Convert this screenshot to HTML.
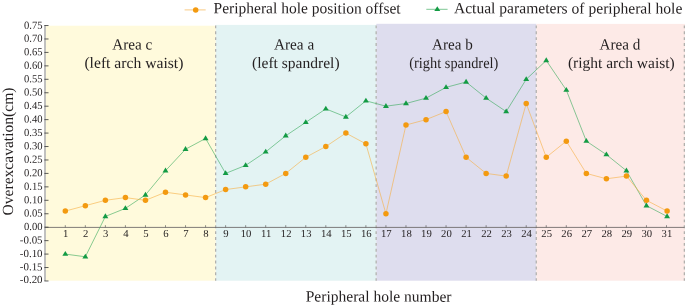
<!DOCTYPE html>
<html><head><meta charset="utf-8"><title>chart</title>
<style>
html,body{margin:0;padding:0;background:#fff;}
svg{display:block;font-family:"Liberation Serif",serif;text-rendering:geometricPrecision;will-change:transform;}
</style></head>
<body>
<svg width="685" height="307" viewBox="0 0 685 307">
<rect x="0" y="0" width="685" height="307" fill="#ffffff"/>
<rect x="45.70" y="25.7" width="170.10" height="255.00" fill="#FFFADC"/>
<rect x="215.80" y="24.9" width="160.50" height="255.80" fill="#E3F3F3"/>
<rect x="376.30" y="23.8" width="160.10" height="256.90" fill="#DEDDEE"/>
<rect x="536.40" y="23.9" width="148.60" height="256.80" fill="#FDEAE7"/>
<line x1="215.65" y1="25.4" x2="215.65" y2="280.7" stroke="#b0afac" stroke-width="1.25" stroke-dasharray="2.9 2.98"/>
<line x1="376.15000000000003" y1="25.4" x2="376.15000000000003" y2="280.7" stroke="#b0afac" stroke-width="1.25" stroke-dasharray="2.9 2.98"/>
<line x1="536.25" y1="25.4" x2="536.25" y2="280.7" stroke="#b0afac" stroke-width="1.25" stroke-dasharray="2.9 2.98"/>
<line x1="684.35" y1="25.4" x2="684.35" y2="280.7" stroke="#b0afac" stroke-width="1.25" stroke-dasharray="2.9 2.98"/>
<line x1="45.0" y1="24.9" x2="45.0" y2="281.09999999999997" stroke="#a6a6a6" stroke-width="1.4"/>
<line x1="45.0" y1="227.39999999999998" x2="684.5" y2="227.39999999999998" stroke="#6a6564" stroke-width="0.85"/>
<line x1="44.40" y1="280.98" x2="48.50" y2="280.98" stroke="#404040" stroke-width="0.85"/>
<text transform="translate(42.60,282.98) rotate(0.04)" font-size="10.8" text-anchor="end" textLength="22.8" lengthAdjust="spacingAndGlyphs" fill="#231f20">-0.20</text>
<line x1="44.40" y1="267.53" x2="48.50" y2="267.53" stroke="#404040" stroke-width="0.85"/>
<text transform="translate(42.60,270.38) rotate(0.04)" font-size="10.8" text-anchor="end" textLength="22.8" lengthAdjust="spacingAndGlyphs" fill="#231f20">-0.15</text>
<line x1="44.40" y1="254.09" x2="48.50" y2="254.09" stroke="#404040" stroke-width="0.85"/>
<text transform="translate(42.60,256.94) rotate(0.04)" font-size="10.8" text-anchor="end" textLength="22.8" lengthAdjust="spacingAndGlyphs" fill="#231f20">-0.10</text>
<line x1="44.40" y1="240.64" x2="48.50" y2="240.64" stroke="#404040" stroke-width="0.85"/>
<text transform="translate(42.60,243.50) rotate(0.04)" font-size="10.8" text-anchor="end" textLength="22.8" lengthAdjust="spacingAndGlyphs" fill="#231f20">-0.05</text>
<line x1="44.40" y1="227.20" x2="48.50" y2="227.20" stroke="#404040" stroke-width="0.85"/>
<text transform="translate(42.60,230.05) rotate(0.04)" font-size="10.8" text-anchor="end" textLength="18.6" lengthAdjust="spacingAndGlyphs" fill="#231f20">0.00</text>
<line x1="44.40" y1="213.75" x2="48.50" y2="213.75" stroke="#404040" stroke-width="0.85"/>
<text transform="translate(42.60,216.61) rotate(0.04)" font-size="10.8" text-anchor="end" textLength="18.6" lengthAdjust="spacingAndGlyphs" fill="#231f20">0.05</text>
<line x1="44.40" y1="200.31" x2="48.50" y2="200.31" stroke="#404040" stroke-width="0.85"/>
<text transform="translate(42.60,203.16) rotate(0.04)" font-size="10.8" text-anchor="end" textLength="18.6" lengthAdjust="spacingAndGlyphs" fill="#231f20">0.10</text>
<line x1="44.40" y1="186.86" x2="48.50" y2="186.86" stroke="#404040" stroke-width="0.85"/>
<text transform="translate(42.60,189.72) rotate(0.04)" font-size="10.8" text-anchor="end" textLength="18.6" lengthAdjust="spacingAndGlyphs" fill="#231f20">0.15</text>
<line x1="44.40" y1="173.42" x2="48.50" y2="173.42" stroke="#404040" stroke-width="0.85"/>
<text transform="translate(42.60,176.27) rotate(0.04)" font-size="10.8" text-anchor="end" textLength="18.6" lengthAdjust="spacingAndGlyphs" fill="#231f20">0.20</text>
<line x1="44.40" y1="159.97" x2="48.50" y2="159.97" stroke="#404040" stroke-width="0.85"/>
<text transform="translate(42.60,162.83) rotate(0.04)" font-size="10.8" text-anchor="end" textLength="18.6" lengthAdjust="spacingAndGlyphs" fill="#231f20">0.25</text>
<line x1="44.40" y1="146.53" x2="48.50" y2="146.53" stroke="#404040" stroke-width="0.85"/>
<text transform="translate(42.60,149.38) rotate(0.04)" font-size="10.8" text-anchor="end" textLength="18.6" lengthAdjust="spacingAndGlyphs" fill="#231f20">0.30</text>
<line x1="44.40" y1="133.08" x2="48.50" y2="133.08" stroke="#404040" stroke-width="0.85"/>
<text transform="translate(42.60,135.94) rotate(0.04)" font-size="10.8" text-anchor="end" textLength="18.6" lengthAdjust="spacingAndGlyphs" fill="#231f20">0.35</text>
<line x1="44.40" y1="119.64" x2="48.50" y2="119.64" stroke="#404040" stroke-width="0.85"/>
<text transform="translate(42.60,122.49) rotate(0.04)" font-size="10.8" text-anchor="end" textLength="18.6" lengthAdjust="spacingAndGlyphs" fill="#231f20">0.40</text>
<line x1="44.40" y1="106.19" x2="48.50" y2="106.19" stroke="#404040" stroke-width="0.85"/>
<text transform="translate(42.60,109.04) rotate(0.04)" font-size="10.8" text-anchor="end" textLength="18.6" lengthAdjust="spacingAndGlyphs" fill="#231f20">0.45</text>
<line x1="44.40" y1="92.75" x2="48.50" y2="92.75" stroke="#404040" stroke-width="0.85"/>
<text transform="translate(42.60,95.60) rotate(0.04)" font-size="10.8" text-anchor="end" textLength="18.6" lengthAdjust="spacingAndGlyphs" fill="#231f20">0.50</text>
<line x1="44.40" y1="79.30" x2="48.50" y2="79.30" stroke="#404040" stroke-width="0.85"/>
<text transform="translate(42.60,82.15) rotate(0.04)" font-size="10.8" text-anchor="end" textLength="18.6" lengthAdjust="spacingAndGlyphs" fill="#231f20">0.55</text>
<line x1="44.40" y1="65.86" x2="48.50" y2="65.86" stroke="#404040" stroke-width="0.85"/>
<text transform="translate(42.60,68.71) rotate(0.04)" font-size="10.8" text-anchor="end" textLength="18.6" lengthAdjust="spacingAndGlyphs" fill="#231f20">0.60</text>
<line x1="44.40" y1="52.41" x2="48.50" y2="52.41" stroke="#404040" stroke-width="0.85"/>
<text transform="translate(42.60,55.26) rotate(0.04)" font-size="10.8" text-anchor="end" textLength="18.6" lengthAdjust="spacingAndGlyphs" fill="#231f20">0.65</text>
<line x1="44.40" y1="38.97" x2="48.50" y2="38.97" stroke="#404040" stroke-width="0.85"/>
<text transform="translate(42.60,41.82) rotate(0.04)" font-size="10.8" text-anchor="end" textLength="18.6" lengthAdjust="spacingAndGlyphs" fill="#231f20">0.70</text>
<line x1="44.40" y1="25.53" x2="48.50" y2="25.53" stroke="#404040" stroke-width="0.85"/>
<text transform="translate(42.60,28.68) rotate(0.04)" font-size="10.8" text-anchor="end" textLength="18.6" lengthAdjust="spacingAndGlyphs" fill="#231f20">0.75</text>
<line x1="65.30" y1="227.39999999999998" x2="65.30" y2="225.20" stroke="#606060" stroke-width="0.7"/>
<text transform="translate(65.70,237.10) rotate(0.04)" font-size="10.7" text-anchor="middle" fill="#231f20">1</text>
<line x1="85.34" y1="227.39999999999998" x2="85.34" y2="225.20" stroke="#606060" stroke-width="0.7"/>
<text transform="translate(85.74,237.10) rotate(0.04)" font-size="10.7" text-anchor="middle" fill="#231f20">2</text>
<line x1="105.38" y1="227.39999999999998" x2="105.38" y2="225.20" stroke="#606060" stroke-width="0.7"/>
<text transform="translate(105.78,237.10) rotate(0.04)" font-size="10.7" text-anchor="middle" fill="#231f20">3</text>
<line x1="125.42" y1="227.39999999999998" x2="125.42" y2="225.20" stroke="#606060" stroke-width="0.7"/>
<text transform="translate(125.82,237.10) rotate(0.04)" font-size="10.7" text-anchor="middle" fill="#231f20">4</text>
<line x1="145.46" y1="227.39999999999998" x2="145.46" y2="225.20" stroke="#606060" stroke-width="0.7"/>
<text transform="translate(145.86,237.10) rotate(0.04)" font-size="10.7" text-anchor="middle" fill="#231f20">5</text>
<line x1="165.50" y1="227.39999999999998" x2="165.50" y2="225.20" stroke="#606060" stroke-width="0.7"/>
<text transform="translate(165.90,237.10) rotate(0.04)" font-size="10.7" text-anchor="middle" fill="#231f20">6</text>
<line x1="185.54" y1="227.39999999999998" x2="185.54" y2="225.20" stroke="#606060" stroke-width="0.7"/>
<text transform="translate(185.94,237.10) rotate(0.04)" font-size="10.7" text-anchor="middle" fill="#231f20">7</text>
<line x1="205.58" y1="227.39999999999998" x2="205.58" y2="225.20" stroke="#606060" stroke-width="0.7"/>
<text transform="translate(205.98,237.10) rotate(0.04)" font-size="10.7" text-anchor="middle" fill="#231f20">8</text>
<line x1="225.62" y1="227.39999999999998" x2="225.62" y2="225.20" stroke="#606060" stroke-width="0.7"/>
<text transform="translate(226.02,237.10) rotate(0.04)" font-size="10.7" text-anchor="middle" fill="#231f20">9</text>
<line x1="245.66" y1="227.39999999999998" x2="245.66" y2="225.20" stroke="#606060" stroke-width="0.7"/>
<text transform="translate(246.06,237.10) rotate(0.04)" font-size="10.7" text-anchor="middle" fill="#231f20">10</text>
<line x1="265.70" y1="227.39999999999998" x2="265.70" y2="225.20" stroke="#606060" stroke-width="0.7"/>
<text transform="translate(266.10,237.10) rotate(0.04)" font-size="10.7" text-anchor="middle" fill="#231f20">11</text>
<line x1="285.74" y1="227.39999999999998" x2="285.74" y2="225.20" stroke="#606060" stroke-width="0.7"/>
<text transform="translate(286.14,237.10) rotate(0.04)" font-size="10.7" text-anchor="middle" fill="#231f20">12</text>
<line x1="305.78" y1="227.39999999999998" x2="305.78" y2="225.20" stroke="#606060" stroke-width="0.7"/>
<text transform="translate(306.18,237.10) rotate(0.04)" font-size="10.7" text-anchor="middle" fill="#231f20">13</text>
<line x1="325.82" y1="227.39999999999998" x2="325.82" y2="225.20" stroke="#606060" stroke-width="0.7"/>
<text transform="translate(326.22,237.10) rotate(0.04)" font-size="10.7" text-anchor="middle" fill="#231f20">14</text>
<line x1="345.86" y1="227.39999999999998" x2="345.86" y2="225.20" stroke="#606060" stroke-width="0.7"/>
<text transform="translate(346.26,237.10) rotate(0.04)" font-size="10.7" text-anchor="middle" fill="#231f20">15</text>
<line x1="365.90" y1="227.39999999999998" x2="365.90" y2="225.20" stroke="#606060" stroke-width="0.7"/>
<text transform="translate(366.30,237.10) rotate(0.04)" font-size="10.7" text-anchor="middle" fill="#231f20">16</text>
<line x1="385.94" y1="227.39999999999998" x2="385.94" y2="225.20" stroke="#606060" stroke-width="0.7"/>
<text transform="translate(386.34,237.10) rotate(0.04)" font-size="10.7" text-anchor="middle" fill="#231f20">17</text>
<line x1="405.98" y1="227.39999999999998" x2="405.98" y2="225.20" stroke="#606060" stroke-width="0.7"/>
<text transform="translate(406.38,237.10) rotate(0.04)" font-size="10.7" text-anchor="middle" fill="#231f20">18</text>
<line x1="426.02" y1="227.39999999999998" x2="426.02" y2="225.20" stroke="#606060" stroke-width="0.7"/>
<text transform="translate(426.42,237.10) rotate(0.04)" font-size="10.7" text-anchor="middle" fill="#231f20">19</text>
<line x1="446.06" y1="227.39999999999998" x2="446.06" y2="225.20" stroke="#606060" stroke-width="0.7"/>
<text transform="translate(446.46,237.10) rotate(0.04)" font-size="10.7" text-anchor="middle" fill="#231f20">20</text>
<line x1="466.10" y1="227.39999999999998" x2="466.10" y2="225.20" stroke="#606060" stroke-width="0.7"/>
<text transform="translate(466.50,237.10) rotate(0.04)" font-size="10.7" text-anchor="middle" fill="#231f20">21</text>
<line x1="486.14" y1="227.39999999999998" x2="486.14" y2="225.20" stroke="#606060" stroke-width="0.7"/>
<text transform="translate(486.54,237.10) rotate(0.04)" font-size="10.7" text-anchor="middle" fill="#231f20">22</text>
<line x1="506.18" y1="227.39999999999998" x2="506.18" y2="225.20" stroke="#606060" stroke-width="0.7"/>
<text transform="translate(506.58,237.10) rotate(0.04)" font-size="10.7" text-anchor="middle" fill="#231f20">23</text>
<line x1="526.22" y1="227.39999999999998" x2="526.22" y2="225.20" stroke="#606060" stroke-width="0.7"/>
<text transform="translate(526.62,237.10) rotate(0.04)" font-size="10.7" text-anchor="middle" fill="#231f20">24</text>
<line x1="546.26" y1="227.39999999999998" x2="546.26" y2="225.20" stroke="#606060" stroke-width="0.7"/>
<text transform="translate(546.66,237.10) rotate(0.04)" font-size="10.7" text-anchor="middle" fill="#231f20">25</text>
<line x1="566.30" y1="227.39999999999998" x2="566.30" y2="225.20" stroke="#606060" stroke-width="0.7"/>
<text transform="translate(566.70,237.10) rotate(0.04)" font-size="10.7" text-anchor="middle" fill="#231f20">26</text>
<line x1="586.34" y1="227.39999999999998" x2="586.34" y2="225.20" stroke="#606060" stroke-width="0.7"/>
<text transform="translate(586.74,237.10) rotate(0.04)" font-size="10.7" text-anchor="middle" fill="#231f20">27</text>
<line x1="606.38" y1="227.39999999999998" x2="606.38" y2="225.20" stroke="#606060" stroke-width="0.7"/>
<text transform="translate(606.78,237.10) rotate(0.04)" font-size="10.7" text-anchor="middle" fill="#231f20">28</text>
<line x1="626.42" y1="227.39999999999998" x2="626.42" y2="225.20" stroke="#606060" stroke-width="0.7"/>
<text transform="translate(626.82,237.10) rotate(0.04)" font-size="10.7" text-anchor="middle" fill="#231f20">29</text>
<line x1="646.46" y1="227.39999999999998" x2="646.46" y2="225.20" stroke="#606060" stroke-width="0.7"/>
<text transform="translate(646.86,237.10) rotate(0.04)" font-size="10.7" text-anchor="middle" fill="#231f20">30</text>
<line x1="666.50" y1="227.39999999999998" x2="666.50" y2="225.20" stroke="#606060" stroke-width="0.7"/>
<text transform="translate(666.90,237.10) rotate(0.04)" font-size="10.7" text-anchor="middle" fill="#231f20">31</text>
<polyline points="65.30,254.09 85.34,256.78 105.38,216.44 125.42,208.38 145.46,194.93 165.50,170.73 185.54,149.22 205.58,138.46 225.62,173.42 245.66,165.35 265.70,151.91 285.74,135.77 305.78,122.33 325.82,108.88 345.86,116.95 365.90,100.82 385.94,106.19 405.98,103.51 426.02,98.13 446.06,87.37 466.10,81.99 486.14,98.13 506.18,111.57 526.22,79.30 546.26,60.48 566.30,90.06 586.34,141.15 606.38,154.60 626.42,170.73 646.46,205.69 667.10,216.44" fill="none" stroke="#38A95A" stroke-width="0.6" stroke-linejoin="round"/>
<polyline points="65.30,211.07 85.34,205.69 105.38,200.31 125.42,197.62 145.46,200.31 165.50,192.24 185.54,194.93 205.58,197.62 225.62,189.55 245.66,186.87 265.70,184.18 285.74,173.42 305.78,157.29 325.82,146.53 345.86,133.09 365.90,143.84 385.94,213.75 405.98,125.02 426.02,119.64 446.06,111.57 466.10,157.29 486.14,173.42 506.18,176.11 526.22,103.51 546.26,157.29 566.30,141.15 586.34,173.42 606.38,178.80 626.42,176.11 646.46,200.31 667.10,211.07" fill="none" stroke="#F6AE42" stroke-width="0.6" stroke-linejoin="round"/>
<path d="M65.30,250.94 L68.25,255.79 L62.35,255.79 Z" fill="#139B44"/>
<path d="M85.34,253.63 L88.29,258.48 L82.39,258.48 Z" fill="#139B44"/>
<path d="M105.38,213.29 L108.33,218.14 L102.43,218.14 Z" fill="#139B44"/>
<path d="M125.42,205.23 L128.37,210.08 L122.47,210.08 Z" fill="#139B44"/>
<path d="M145.46,191.78 L148.41,196.63 L142.51,196.63 Z" fill="#139B44"/>
<path d="M165.50,167.58 L168.45,172.43 L162.55,172.43 Z" fill="#139B44"/>
<path d="M185.54,146.07 L188.49,150.92 L182.59,150.92 Z" fill="#139B44"/>
<path d="M205.58,135.31 L208.53,140.16 L202.63,140.16 Z" fill="#139B44"/>
<path d="M225.62,170.27 L228.57,175.12 L222.67,175.12 Z" fill="#139B44"/>
<path d="M245.66,162.20 L248.61,167.05 L242.71,167.05 Z" fill="#139B44"/>
<path d="M265.70,148.76 L268.65,153.61 L262.75,153.61 Z" fill="#139B44"/>
<path d="M285.74,132.62 L288.69,137.47 L282.79,137.47 Z" fill="#139B44"/>
<path d="M305.78,119.18 L308.73,124.03 L302.83,124.03 Z" fill="#139B44"/>
<path d="M325.82,105.73 L328.77,110.58 L322.87,110.58 Z" fill="#139B44"/>
<path d="M345.86,113.80 L348.81,118.65 L342.91,118.65 Z" fill="#139B44"/>
<path d="M365.90,97.67 L368.85,102.52 L362.95,102.52 Z" fill="#139B44"/>
<path d="M385.94,103.04 L388.89,107.89 L382.99,107.89 Z" fill="#139B44"/>
<path d="M405.98,100.36 L408.93,105.21 L403.03,105.21 Z" fill="#139B44"/>
<path d="M426.02,94.98 L428.97,99.83 L423.07,99.83 Z" fill="#139B44"/>
<path d="M446.06,84.22 L449.01,89.07 L443.11,89.07 Z" fill="#139B44"/>
<path d="M466.10,78.84 L469.05,83.69 L463.15,83.69 Z" fill="#139B44"/>
<path d="M486.14,94.98 L489.09,99.83 L483.19,99.83 Z" fill="#139B44"/>
<path d="M506.18,108.42 L509.13,113.27 L503.23,113.27 Z" fill="#139B44"/>
<path d="M526.22,76.15 L529.17,81.00 L523.27,81.00 Z" fill="#139B44"/>
<path d="M546.26,57.33 L549.21,62.18 L543.31,62.18 Z" fill="#139B44"/>
<path d="M566.30,86.91 L569.25,91.76 L563.35,91.76 Z" fill="#139B44"/>
<path d="M586.34,138.00 L589.29,142.85 L583.39,142.85 Z" fill="#139B44"/>
<path d="M606.38,151.45 L609.33,156.30 L603.43,156.30 Z" fill="#139B44"/>
<path d="M626.42,167.58 L629.37,172.43 L623.47,172.43 Z" fill="#139B44"/>
<path d="M646.46,202.54 L649.41,207.39 L643.51,207.39 Z" fill="#139B44"/>
<path d="M667.10,213.29 L670.05,218.14 L664.15,218.14 Z" fill="#139B44"/>
<circle cx="65.30" cy="211.07" r="2.75" fill="#F39A10"/>
<circle cx="85.34" cy="205.69" r="2.75" fill="#F39A10"/>
<circle cx="105.38" cy="200.31" r="2.75" fill="#F39A10"/>
<circle cx="125.42" cy="197.62" r="2.75" fill="#F39A10"/>
<circle cx="145.46" cy="200.31" r="2.75" fill="#F39A10"/>
<circle cx="165.50" cy="192.24" r="2.75" fill="#F39A10"/>
<circle cx="185.54" cy="194.93" r="2.75" fill="#F39A10"/>
<circle cx="205.58" cy="197.62" r="2.75" fill="#F39A10"/>
<circle cx="225.62" cy="189.55" r="2.75" fill="#F39A10"/>
<circle cx="245.66" cy="186.87" r="2.75" fill="#F39A10"/>
<circle cx="265.70" cy="184.18" r="2.75" fill="#F39A10"/>
<circle cx="285.74" cy="173.42" r="2.75" fill="#F39A10"/>
<circle cx="305.78" cy="157.29" r="2.75" fill="#F39A10"/>
<circle cx="325.82" cy="146.53" r="2.75" fill="#F39A10"/>
<circle cx="345.86" cy="133.09" r="2.75" fill="#F39A10"/>
<circle cx="365.90" cy="143.84" r="2.75" fill="#F39A10"/>
<circle cx="385.94" cy="213.75" r="2.75" fill="#F39A10"/>
<circle cx="405.98" cy="125.02" r="2.75" fill="#F39A10"/>
<circle cx="426.02" cy="119.64" r="2.75" fill="#F39A10"/>
<circle cx="446.06" cy="111.57" r="2.75" fill="#F39A10"/>
<circle cx="466.10" cy="157.29" r="2.75" fill="#F39A10"/>
<circle cx="486.14" cy="173.42" r="2.75" fill="#F39A10"/>
<circle cx="506.18" cy="176.11" r="2.75" fill="#F39A10"/>
<circle cx="526.22" cy="103.51" r="2.75" fill="#F39A10"/>
<circle cx="546.26" cy="157.29" r="2.75" fill="#F39A10"/>
<circle cx="566.30" cy="141.15" r="2.75" fill="#F39A10"/>
<circle cx="586.34" cy="173.42" r="2.75" fill="#F39A10"/>
<circle cx="606.38" cy="178.80" r="2.75" fill="#F39A10"/>
<circle cx="626.42" cy="176.11" r="2.75" fill="#F39A10"/>
<circle cx="646.46" cy="200.31" r="2.75" fill="#F39A10"/>
<circle cx="667.10" cy="211.07" r="2.75" fill="#F39A10"/>
<line x1="184.6" y1="9.9" x2="205.7" y2="9.9" stroke="#F6AE42" stroke-width="0.65"/>
<circle cx="195.7" cy="9.9" r="2.75" fill="#F39A10"/>
<text transform="translate(213.60,13.30) rotate(0.04)" font-size="15.5" textLength="187" lengthAdjust="spacingAndGlyphs" fill="#231f20">Peripheral hole position offset</text>
<line x1="426.3" y1="9.3" x2="447.6" y2="9.3" stroke="#38A95A" stroke-width="0.65"/>
<path d="M437.30,6.15 L440.25,11.00 L434.35,11.00 Z" fill="#139B44"/>
<text transform="translate(453.90,13.30) rotate(0.04)" font-size="15.5" textLength="228.4" lengthAdjust="spacingAndGlyphs" fill="#231f20">Actual parameters of peripheral hole</text>
<text transform="translate(132.20,49.60) rotate(0.04)" font-size="15.5" text-anchor="middle" textLength="40.1" lengthAdjust="spacingAndGlyphs" fill="#231f20">Area c</text>
<text transform="translate(133.90,67.90) rotate(0.04)" font-size="15.5" text-anchor="middle" textLength="99" lengthAdjust="spacingAndGlyphs" fill="#231f20">(left arch waist)</text>
<text transform="translate(294.10,49.60) rotate(0.04)" font-size="15.5" text-anchor="middle" textLength="40.3" lengthAdjust="spacingAndGlyphs" fill="#231f20">Area a</text>
<text transform="translate(295.80,67.90) rotate(0.04)" font-size="15.5" text-anchor="middle" textLength="87.6" lengthAdjust="spacingAndGlyphs" fill="#231f20">(left spandrel)</text>
<text transform="translate(452.40,49.60) rotate(0.04)" font-size="15.5" text-anchor="middle" textLength="40.6" lengthAdjust="spacingAndGlyphs" fill="#231f20">Area b</text>
<text transform="translate(453.80,67.90) rotate(0.04)" font-size="15.5" text-anchor="middle" textLength="89" lengthAdjust="spacingAndGlyphs" fill="#231f20">(right spandrel)</text>
<text transform="translate(620.00,49.60) rotate(0.04)" font-size="15.5" text-anchor="middle" textLength="40.8" lengthAdjust="spacingAndGlyphs" fill="#231f20">Area d</text>
<text transform="translate(621.30,67.90) rotate(0.04)" font-size="15.5" text-anchor="middle" textLength="106.8" lengthAdjust="spacingAndGlyphs" fill="#231f20">(right arch waist)</text>
<text transform="translate(378.60,301.60) rotate(0.04)" font-size="15.5" text-anchor="middle" textLength="145.8" lengthAdjust="spacingAndGlyphs" fill="#231f20">Peripheral hole number</text>
<text transform="translate(13.20,151.50) rotate(-90)" font-size="15.5" text-anchor="middle" textLength="128.0" lengthAdjust="spacingAndGlyphs" fill="#231f20">Overexcavation(cm)</text>
</svg>
</body></html>
